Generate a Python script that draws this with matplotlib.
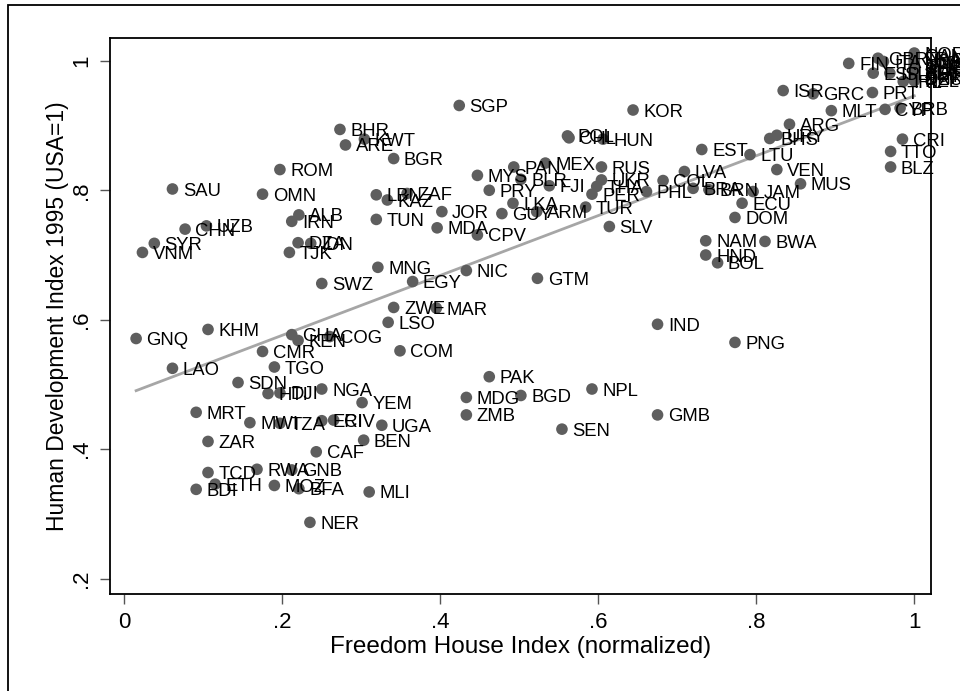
import matplotlib
matplotlib.use('Agg')
import matplotlib.pyplot as plt
import numpy as np
from matplotlib.patches import Rectangle

FONT = ['Liberation Sans', 'DejaVu Sans']
plt.rcParams['font.family'] = FONT

codes = ['FIN', 'GBR', 'ITA', 'ESP', 'ISL', 'IRL', 'NOR', 'CAN', 'FRA', 'USA',
         'NLD', 'JPN', 'CHE', 'SWE', 'AUS', 'BEL', 'AUT', 'DNK', 'DEU', 'NZL',
         'ISR', 'GRC', 'PRT', 'MLT', 'CYP', 'BRB', 'ARG', 'BHS', 'URY', 'EST',
         'LTU', 'LVA', 'VEN', 'MUS', 'COL', 'BRA', 'BRN', 'JAM', 'ECU', 'DOM',
         'CRI', 'TTO', 'BLZ', 'NAM', 'BWA', 'HND', 'BOL', 'IND', 'PNG', 'GMB',
         'SGP', 'KOR', 'POL', 'CHL', 'HUN', 'MEX', 'PAN', 'RUS', 'MYS', 'BLR',
         'FJI', 'PRY', 'UKR', 'THA', 'PER', 'PHL', 'LKA', 'GUY', 'ARM', 'TUR',
         'SLV', 'JOR', 'MDA', 'CPV', 'NIC', 'GTM', 'MNG', 'EGY', 'ZWE', 'MAR',
         'LSO', 'COM', 'PAK', 'MDG', 'BGD', 'NPL', 'ZMB', 'SEN', 'BHR', 'KWT',
         'ARE', 'BGR', 'ROM', 'SAU', 'OMN', 'LBN', 'KAZ', 'ZAF', 'ALB', 'IRN',
         'TUN', 'CHN', 'UZB', 'SYR', 'VNM', 'DZA', 'IDN', 'TJK', 'SWZ', 'KHM',
         'GNQ', 'GHA', 'KEN', 'COG', 'CMR', 'LAO', 'TGO', 'SDN', 'HTI', 'DJI',
         'NGA', 'YEM', 'MRT', 'MWI', 'TZA', 'ERI', 'CIV', 'UGA', 'ZAR', 'BEN',
         'CAF', 'TCD', 'RWA', 'GNB', 'ETH', 'MOZ', 'BFA', 'BDI', 'MLI', 'NER']

freedom = [0.917, 0.954, 0.961, 0.948, 0.969, 0.986, 1.000, 1.000, 1.000, 1.000,
           1.000, 1.000, 1.000, 1.000, 1.000, 1.000, 1.000, 1.000, 1.000, 1.000,
           0.834, 0.872, 0.947, 0.895, 0.963, 0.982, 0.842, 0.817, 0.826, 0.731,
           0.792, 0.709, 0.826, 0.856, 0.682, 0.720, 0.740, 0.796, 0.782, 0.773,
           0.985, 0.970, 0.970, 0.736, 0.811, 0.736, 0.751, 0.675, 0.773, 0.675,
           0.424, 0.644, 0.561, 0.563, 0.606, 0.533, 0.493, 0.604, 0.447, 0.502,
           0.538, 0.462, 0.604, 0.598, 0.592, 0.661, 0.492, 0.478, 0.522, 0.584,
           0.614, 0.402, 0.396, 0.447, 0.433, 0.523, 0.321, 0.365, 0.341, 0.395,
           0.334, 0.349, 0.462, 0.433, 0.502, 0.592, 0.433, 0.554, 0.273, 0.304,
           0.280, 0.341, 0.197, 0.061, 0.175, 0.319, 0.333, 0.358, 0.221, 0.212,
           0.319, 0.077, 0.104, 0.038, 0.023, 0.220, 0.236, 0.209, 0.250, 0.106,
           0.015, 0.212, 0.220, 0.260, 0.175, 0.061, 0.190, 0.144, 0.182, 0.197,
           0.250, 0.301, 0.091, 0.159, 0.197, 0.250, 0.265, 0.326, 0.106, 0.303,
           0.243, 0.106, 0.168, 0.212, 0.115, 0.190, 0.221, 0.091, 0.310, 0.235]

hdi = [0.996, 1.004, 0.999, 0.981, 0.981, 0.968, 1.012, 1.008, 1.003, 1.000,
       0.997, 0.993, 0.990, 0.987, 0.984, 0.981, 0.978, 0.975, 0.972, 0.969,
       0.954, 0.949, 0.951, 0.923, 0.925, 0.927, 0.902, 0.880, 0.885, 0.863,
       0.855, 0.829, 0.832, 0.810, 0.815, 0.803, 0.801, 0.798, 0.780, 0.758,
       0.879, 0.860, 0.836, 0.722, 0.721, 0.700, 0.688, 0.593, 0.565, 0.453,
       0.931, 0.924, 0.884, 0.881, 0.879, 0.842, 0.836, 0.836, 0.823, 0.817,
       0.807, 0.800, 0.816, 0.806, 0.794, 0.798, 0.780, 0.764, 0.767, 0.774,
       0.744, 0.767, 0.742, 0.731, 0.676, 0.664, 0.681, 0.659, 0.619, 0.618,
       0.596, 0.552, 0.512, 0.480, 0.483, 0.493, 0.453, 0.431, 0.894, 0.879,
       0.870, 0.849, 0.832, 0.802, 0.794, 0.793, 0.785, 0.795, 0.762, 0.752,
       0.755, 0.740, 0.745, 0.718, 0.704, 0.719, 0.718, 0.704, 0.656, 0.585,
       0.571, 0.577, 0.568, 0.574, 0.551, 0.525, 0.527, 0.503, 0.486, 0.487,
       0.493, 0.472, 0.457, 0.441, 0.440, 0.444, 0.445, 0.437, 0.412, 0.414,
       0.396, 0.364, 0.369, 0.368, 0.346, 0.344, 0.339, 0.338, 0.334, 0.287]

x_ticks = [0, 0.2, 0.4, 0.6, 0.8, 1.0]
x_tick_labels = ['0', '.2', '.4', '.6', '.8', '1']
y_ticks = [0.2, 0.4, 0.6, 0.8, 1.0]
y_tick_labels = ['.2', '.4', '.6', '.8', '1']

x = np.array(freedom)
y = np.array(hdi)

fig = plt.figure(figsize=(9.6, 6.91), dpi=100)
ax = fig.add_axes([0.1148, 0.1410, 0.8548, 0.8036])

dot_color = '#5e5e5e'
ax.scatter(x, y, s=70, color=dot_color, edgecolors='none', zorder=3)

for c, xi, yi in zip(codes, x, y):
    ax.annotate(c, (xi, yi), xytext=(7.4, -4.7), textcoords='offset points',
                ha='left', va='baseline', fontsize=13.3, color='black',
                annotation_clip=False, clip_on=False, zorder=4)

coef = np.polyfit(x, y, 1)
xl = np.array([x.min(), x.max()])
ax.plot(xl, np.polyval(coef, xl), color='#a6a6a6', lw=2.0, zorder=2)

ax.set_xlim(-0.0178, 1.0209)
ax.set_ylim(0.177, 1.0348)
ax.set_xticks(x_ticks)
ax.set_xticklabels(x_tick_labels)
ax.set_yticks(y_ticks)
ax.set_yticklabels(y_tick_labels, rotation=90, va='center')

ax.tick_params(axis='both', direction='out', length=7.2, width=1.0,
               color='#555555', labelsize=16, pad=6)

for sp in ax.spines.values():
    sp.set_linewidth(1.3)
    sp.set_color('black')

ax.set_xlabel('Freedom House Index (normalized)', fontsize=17.5, labelpad=2)
ax.set_ylabel('Human Development Index 1995 (USA=1)', fontsize=16.5, labelpad=1)

fig.patches.append(Rectangle((8 / 960, -0.05), 1.2, 1.05 - 5.5 / 691,
                             transform=fig.transFigure, fill=False,
                             edgecolor='black', lw=1.3, zorder=0))

fig.savefig('out.png', dpi=100)
